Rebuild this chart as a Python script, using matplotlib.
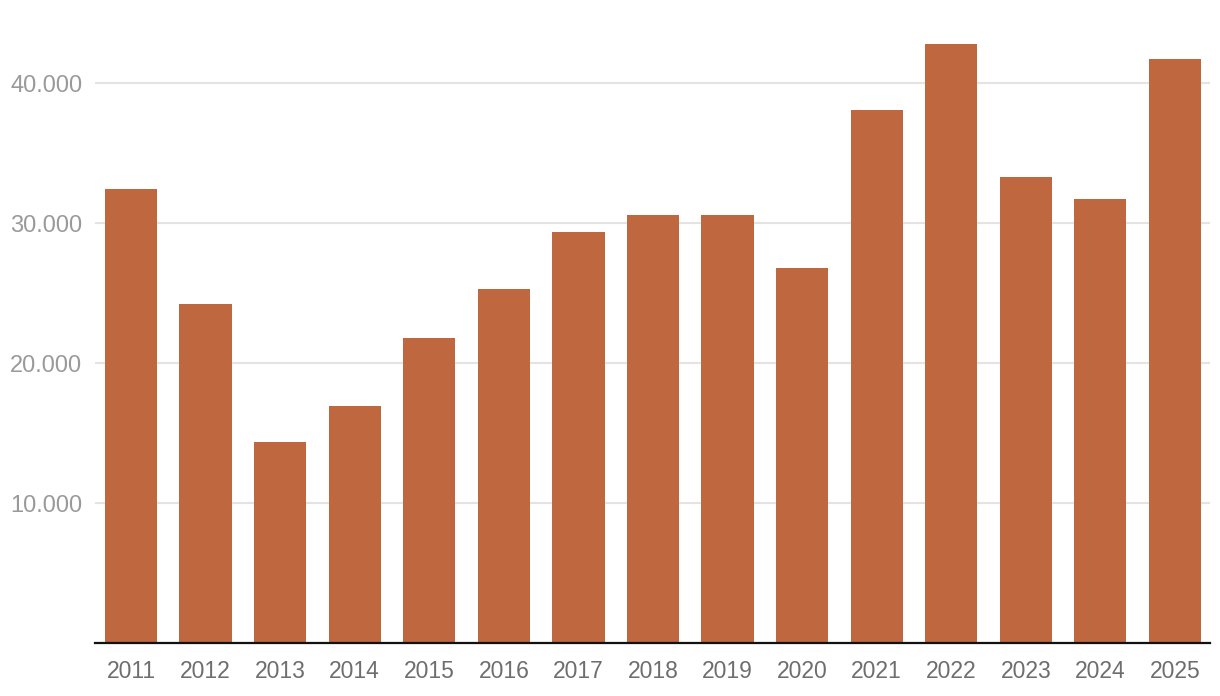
import matplotlib
matplotlib.use("Agg")
import matplotlib.pyplot as plt

years = ["2011", "2012", "2013", "2014", "2015", "2016", "2017", "2018",
         "2019", "2020", "2021", "2022", "2023", "2024", "2025"]
values = [32430, 24210, 14360, 16930, 21790, 25290, 29360, 30570,
          30570, 26790, 38070, 42790, 33290, 31710, 41710]
yticks = [10000, 20000, 30000, 40000]
ytick_labels = ["10.000", "20.000", "30.000", "40.000"]

plt.rcParams['font.family'] = ['Liberation Sans', 'DejaVu Sans']

fig = plt.figure(figsize=(12.2, 6.96), dpi=100)
ax = fig.add_axes([95/1220, 1 - 643/696, (1210-95)/1220, 643/696])

x = list(range(len(years)))
ax.bar(x, values, width=0.70, color="#BF673F", zorder=3)

ax.set_xlim(-0.483, 14.47)
ax.set_ylim(0, 45929)

ax.set_yticks(yticks)
ax.set_yticklabels(ytick_labels)
ax.set_xticks(x)
ax.set_xticklabels(years)

ax.grid(axis='y', color="#e3e3e3", linewidth=1.5, zorder=0)
ax.grid(axis='x', visible=False)

for s in ['top', 'right', 'left']:
    ax.spines[s].set_visible(False)
ax.spines['bottom'].set_color("#111111")
ax.spines['bottom'].set_linewidth(1.6)
ax.spines['bottom'].set_zorder(4)

ax.tick_params(axis='y', length=0, pad=61, labelsize=17, labelcolor="#9a9a9a")
for lbl in ax.get_yticklabels():
    lbl.set_horizontalalignment('left')
ax.tick_params(axis='x', length=0, pad=12.5, labelsize=16.5, labelcolor="#6e6e6e")

fig.savefig("out.png", dpi=100)
